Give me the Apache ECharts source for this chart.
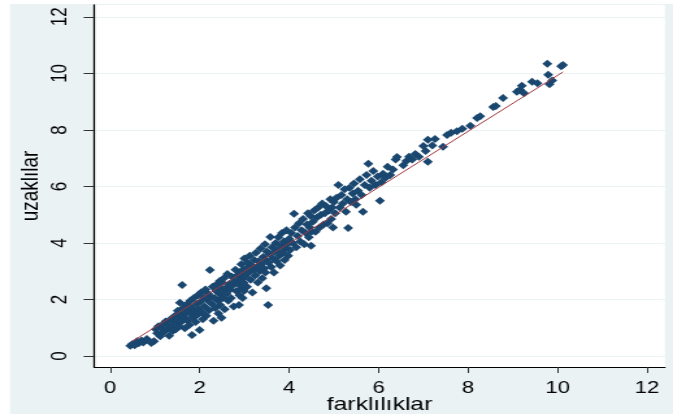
<!DOCTYPE html>
<html>
<head>
<meta charset="utf-8">
<script src="https://cdn.jsdelivr.net/npm/echarts@6/dist/echarts.min.js"></script>
<style>
html,body{margin:0;padding:0;background:#ffffff;width:673px;height:414px;overflow:hidden;}
#wrap{position:absolute;left:0;top:0;width:518px;height:414px;transform:scaleX(1.299228);transform-origin:0 0;}
#c{width:518px;height:414px;}
</style>
</head>
<body>
<div id="wrap"><div id="c"></div></div>
<script>
// Data: [farklılıklar, uzaklılar]
const points = [
[0.45,0.36],[0.50,0.42],[0.55,0.38],[0.60,0.52],[0.64,0.45],[0.70,0.55],[0.74,0.48],[0.82,0.60],[0.92,0.46],[0.98,0.52],
[1.02,0.95],[1.05,0.80],[1.08,1.05],[1.12,0.70],[1.15,0.98],[1.18,1.12],[1.20,0.85],[1.24,1.22],[1.27,0.95],[1.30,1.10],[1.32,0.72],[1.35,1.30],[1.38,1.02],[1.40,0.88],[1.43,1.20],[1.45,1.42],[1.47,0.95],[1.49,1.15],
[1.51,1.60],[1.52,1.30],[1.54,1.05],[1.56,1.88],[1.58,1.45],[1.60,1.22],[1.61,2.51],[1.63,1.70],[1.65,1.38],[1.67,0.98],[1.69,1.55],[1.71,1.82],[1.73,1.25],[1.75,1.62],[1.77,1.10],[1.79,1.95],[1.80,1.48],[1.82,1.72],[1.83,0.74],[1.85,1.35],[1.87,2.05],[1.89,1.58],[1.91,1.20],[1.93,1.85],[1.95,1.45],[1.96,2.15],[1.98,1.65],[2.00,0.92],
[2.01,1.90],[2.03,2.25],[2.05,1.55],[2.07,1.30],[2.09,2.05],[2.11,1.75],[2.13,2.35],[2.15,1.42],[2.17,1.98],[2.19,2.20],[2.21,1.62],[2.23,3.04],[2.25,2.10],[2.27,1.85],[2.29,2.45],[2.31,1.25],[2.33,2.05],[2.35,1.70],[2.37,2.30],[2.39,2.55],[2.41,1.95],[2.42,1.50],[2.44,2.20],[2.45,2.65],[2.46,1.80],[2.47,2.40],[2.48,2.05],[2.49,1.35],[2.50,2.60],[2.50,2.25],
[2.52,2.05],[2.54,2.75],[2.56,1.65],[2.58,2.40],[2.60,2.20],[2.62,2.90],[2.64,1.95],[2.66,2.55],[2.68,2.35],[2.70,2.05],[2.72,2.80],[2.74,2.50],[2.76,1.75],[2.78,2.65],[2.80,3.05],[2.82,2.30],[2.84,2.85],[2.86,2.55],[2.88,1.80],[2.89,2.15],[2.90,2.95],[2.91,2.70],[2.93,3.25],[2.94,2.40],[2.95,2.85],[2.96,2.05],[2.97,3.05],[2.98,2.60],[2.99,2.30],[3.00,3.45],
[3.02,2.80],[3.04,3.10],[3.06,2.45],[3.08,3.30],[3.10,2.95],[3.12,3.55],[3.14,2.70],[3.16,3.20],[3.18,2.25],[3.20,3.05],[3.22,3.40],[3.24,2.85],[3.26,3.65],[3.28,3.15],[3.30,2.60],[3.32,3.35],[3.34,3.00],[3.36,3.80],[3.38,3.25],[3.40,2.75],[3.42,3.50],[3.44,3.10],[3.46,3.95],[3.47,2.95],[3.48,3.40],[3.49,2.40],[3.50,3.70],[3.53,1.80],
[3.54,3.30],[3.56,3.60],[3.58,4.21],[3.60,3.15],[3.62,3.85],[3.64,3.45],[3.66,2.95],[3.68,3.70],[3.70,4.00],[3.72,3.35],[3.74,3.75],[3.76,4.20],[3.78,3.55],[3.80,3.20],[3.82,3.90],[3.84,4.35],[3.86,3.65],[3.88,4.05],[3.90,3.40],[3.92,3.80],[3.94,4.45],[3.96,3.95],[3.98,3.55],[4.00,4.15],
[4.02,3.75],[4.05,4.35],[4.08,4.00],[4.11,5.03],[4.13,4.55],[4.16,3.85],[4.19,4.25],[4.22,4.70],[4.25,4.05],[4.28,4.45],[4.31,4.85],[4.34,3.95],[4.37,4.35],[4.40,4.65],[4.42,5.05],[4.44,4.20],[4.46,4.55],[4.48,4.95],[4.49,3.90],[4.50,4.40],
[4.53,4.75],[4.56,5.15],[4.59,4.40],[4.62,4.90],[4.65,5.25],[4.68,4.55],[4.71,5.00],[4.74,5.40],[4.77,4.65],[4.80,5.05],[4.83,5.30],[4.86,4.70],[4.89,5.15],[4.92,5.55],[4.94,4.85],[4.96,5.25],[4.98,4.55],[5.00,5.45],
[5.03,5.05],[5.06,5.60],[5.10,6.05],[5.13,5.25],[5.17,5.70],[5.20,5.40],[5.24,5.90],[5.27,5.10],[5.30,5.55],[5.32,4.53],[5.35,5.95],[5.38,5.45],[5.42,5.75],[5.45,6.10],[5.48,5.55],[5.50,5.35],
[5.54,5.85],[5.58,6.25],[5.62,5.70],[5.65,5.10],[5.69,6.05],[5.73,6.40],[5.77,6.80],[5.80,5.95],[5.84,6.20],[5.88,6.55],[5.93,6.05],[5.98,6.35],
[6.03,5.49],[6.06,6.15],[6.10,6.45],[6.15,6.30],[6.20,6.70],[6.26,6.40],[6.32,6.60],[6.38,6.95],[6.41,7.04],
[6.55,6.75],[6.62,6.90],[6.68,7.05],[6.75,6.95],[6.82,7.15],[6.90,7.05],[7.00,7.43],
[7.05,7.25],[7.10,6.87],[7.10,7.65],[7.20,7.45],[7.26,7.68],[7.44,7.40],
[7.53,7.82],[7.62,7.90],[7.75,7.95],[7.87,8.04],
[8.05,8.15],[8.20,8.42],[8.27,8.48],
[8.56,8.81],[8.62,8.85],[8.78,9.13],
[9.09,9.35],[9.16,9.42],[9.20,9.56],[9.25,9.30],[9.43,9.70],
[9.55,9.65],[9.77,10.34],[9.79,9.95],[9.82,9.62],[9.88,9.75],[10.08,10.25],[10.12,10.30]
];
// Fitted line endpoints
const fitX = [0.51, 10.12];
const fitY = [0.53, 10.05];
// Tick labels
const xTicks = [0, 2, 4, 6, 8, 10, 12];
const yTicks = [0, 2, 4, 6, 8, 10, 12];
const xTitle = 'farklılıklar';
const yTitle = 'uzaklılar';

const S = 1.299228;
const W = 518;
const chart = echarts.init(document.getElementById('c'), null, {renderer: 'canvas'});
const FONT = "'Liberation Sans', Arial, sans-serif";
chart.setOption({
  animation: false,
  backgroundColor: 'transparent',
  graphic: [{
    type: 'rect', silent: true, z: -10,
    shape: {x: 10 / S, y: 4, width: W - 10 / S, height: 410},
    style: {fill: '#eaf2f3'}
  }],
  grid: {
    left: 94 / S, right: W - 665 / S, top: 5, bottom: 47,
    outerBoundsMode: 'none', containLabel: false,
    show: true, backgroundColor: '#ffffff', borderWidth: 0
  },
  xAxis: {
    type: 'value', min: -0.36, max: 12.4,
    name: xTitle, nameLocation: 'middle', nameGap: 28, nameMoveOverlap: false,
    nameTextStyle: {fontFamily: FONT, fontSize: 19, color: '#000'},
    axisLine: {show: true, onZero: false, lineStyle: {color: '#000', width: 1}},
    axisTick: {show: true, length: 6, customValues: xTicks, lineStyle: {color: '#333', width: 1}},
    axisLabel: {customValues: xTicks, margin: 13, fontFamily: FONT, fontSize: 17, color: '#000'},
    splitLine: {show: false}
  },
  yAxis: {
    type: 'value', min: -0.39, max: 12.42,
    name: yTitle, nameLocation: 'middle', nameGap: 39, nameRotate: 90, nameMoveOverlap: false,
    nameTextStyle: {fontFamily: FONT, fontSize: 19, color: '#000'},
    axisLine: {show: true, onZero: false, lineStyle: {color: '#000', width: 1.3}},
    axisTick: {show: true, length: 8, customValues: yTicks, lineStyle: {color: '#333', width: 1}},
    axisLabel: {customValues: yTicks, rotate: 90, margin: 18, fontFamily: FONT, fontSize: 17, color: '#000'},
    splitLine: {show: true, lineStyle: {color: '#eaf2f3', width: 1}}
  },
  series: [{
    type: 'scatter',
    data: points,
    symbol: 'diamond',
    symbolSize: [7.7, 8],
    itemStyle: {color: '#1a476f', opacity: 1},
    z: 2
  }, {
    type: 'line',
    data: fitX.map((x, i) => [x, fitY[i]]),
    showSymbol: false,
    lineStyle: {color: '#a0383f', width: 1},
    z: 3
  }]
});
</script>
</body>
</html>
